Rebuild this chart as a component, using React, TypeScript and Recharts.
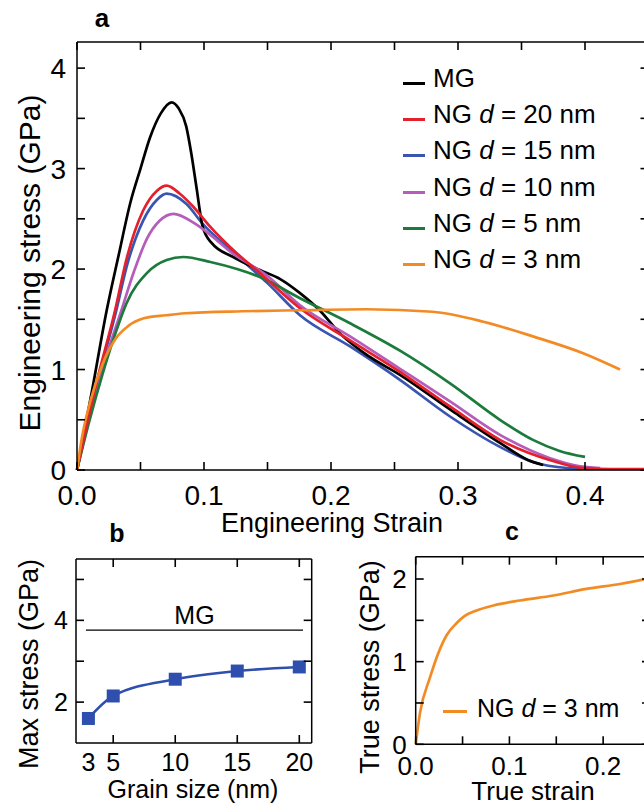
import React from "react";
import { LineChart, Line, XAxis, YAxis, ReferenceLine, Legend } from "recharts";

const FONT = '"Liberation Sans", Arial, Helvetica, sans-serif';

// ---- panel a: engineering stress-strain ----
const mgStrain = [0, 0.012, 0.0234, 0.033, 0.042, 0.05, 0.0575, 0.066, 0.0745, 0.08, 0.086, 0.09, 0.094, 0.099, 0.106, 0.123, 0.144, 0.16, 0.1756, 0.191, 0.207, 0.23, 0.254, 0.294, 0.333, 0.355, 0.367];
const mgStress = [0, 0.8, 1.59, 2.15, 2.66, 3.0, 3.31, 3.55, 3.66, 3.6, 3.42, 3.15, 2.82, 2.42, 2.26, 2.12, 1.99, 1.9, 1.76, 1.59, 1.36, 1.13, 0.95, 0.6, 0.27, 0.1, 0.05];

const ng20Strain = [0, 0.015, 0.03, 0.039, 0.052, 0.063, 0.0706, 0.081, 0.0916, 0.105, 0.123, 0.144, 0.1756, 0.215, 0.254, 0.294, 0.333, 0.372, 0.398, 0.42, 0.45];
const ng20Stress = [0, 0.85, 1.59, 2.1, 2.58, 2.78, 2.83, 2.75, 2.62, 2.42, 2.19, 1.96, 1.61, 1.29, 0.98, 0.63, 0.3, 0.1, 0.02, 0.01, 0.01];

const ng15Strain = [0, 0.015, 0.031, 0.039, 0.052, 0.063, 0.0706, 0.086, 0.099, 0.12, 0.15, 0.1756, 0.215, 0.254, 0.294, 0.333, 0.359, 0.386, 0.406];
const ng15Stress = [0, 0.83, 1.59, 2.02, 2.48, 2.69, 2.75, 2.65, 2.45, 2.2, 1.86, 1.54, 1.23, 0.9, 0.53, 0.23, 0.08, 0.02, 0.01];

const ng10Strain = [0, 0.015, 0.035, 0.045, 0.055, 0.065, 0.076, 0.092, 0.107, 0.12, 0.15, 0.1756, 0.215, 0.254, 0.294, 0.333, 0.372, 0.395, 0.412];
const ng10Stress = [0, 0.8, 1.59, 1.98, 2.3, 2.48, 2.55, 2.46, 2.32, 2.18, 1.93, 1.64, 1.33, 1.01, 0.68, 0.35, 0.12, 0.04, 0.02];

const ng5Strain = [0, 0.01, 0.02, 0.03, 0.039, 0.055, 0.0706, 0.0837, 0.105, 0.126, 0.144, 0.1756, 0.215, 0.254, 0.294, 0.333, 0.359, 0.38, 0.4];
const ng5Stress = [0, 0.5, 0.95, 1.35, 1.66, 1.96, 2.09, 2.12, 2.07, 2.0, 1.92, 1.71, 1.46, 1.19, 0.86, 0.5, 0.3, 0.19, 0.13];

const ng3Strain = [0, 0.004, 0.0104, 0.02, 0.03, 0.04, 0.0526, 0.07, 0.085, 0.13, 0.1756, 0.228, 0.28, 0.32, 0.359, 0.399, 0.4276];
const ng3Stress = [0, 0.33, 0.68, 1.05, 1.3, 1.43, 1.51, 1.54, 1.56, 1.58, 1.59, 1.6, 1.575, 1.476, 1.33, 1.16, 1.0];

const strainDomainA = [0, 0.45];
const stressDomainA = [0, 4.26];
const strainTicksA = [0, 0.05, 0.1, 0.15, 0.2, 0.25, 0.3, 0.35, 0.4, 0.45];
const strainLabelsA = [0, 0.1, 0.2, 0.3, 0.4];
const stressTicksA = [0, 0.5, 1, 1.5, 2, 2.5, 3, 3.5, 4];
const stressLabelsA = [0, 1, 2, 3, 4];

// ---- panel b: max stress vs grain size ----
const grainSize = [3, 5, 10, 15, 20];
const maxStress = [1.6, 2.15, 2.56, 2.76, 2.86];
const mgMaxStress = 3.76;
const mgLineSpan = [2.8, 20.3];
const grainDomain = [2, 21];
const maxStressDomain = [1, 5.5];
const grainTicks = [3, 5, 10, 15, 20];
const grainTickMarks = [5, 10, 15, 20];
const maxStressTicks = [2, 3, 4, 5];
const maxStressLabels = [2, 4];

// ---- panel c: true stress-strain, d = 3 nm ----
const trueStrain = [0, 0.0046, 0.015, 0.024, 0.033, 0.044, 0.052, 0.065, 0.083, 0.111, 0.147, 0.182, 0.218, 0.25];
const trueStress = [0, 0.38, 0.8, 1.1, 1.32, 1.47, 1.55, 1.62, 1.68, 1.74, 1.8, 1.88, 1.94, 2.01];
const trueStrainDomain = [0, 0.25];
const trueStressDomain = [0, 2.27];
const trueStrainTicks = [0, 0.05, 0.1, 0.15, 0.2, 0.25];
const trueStrainLabels = [0, 0.1, 0.2];
const trueStressTicks = [0, 0.5, 1, 1.5, 2];
const trueStressLabels = [0, 1, 2];

const toPoints = (xs: number[], ys: number[]) => xs.map((x, i) => ({ x, y: ys[i] }));

const seriesA = [
  { name: "MG", color: "#000000", data: toPoints(mgStrain, mgStress) },
  { name: "NG d = 20 nm", color: "#e3202b", data: toPoints(ng20Strain, ng20Stress) },
  { name: "NG d = 15 nm", color: "#3a55b0", data: toPoints(ng15Strain, ng15Stress) },
  { name: "NG d = 10 nm", color: "#b65cba", data: toPoints(ng10Strain, ng10Stress) },
  { name: "NG d = 5 nm", color: "#1c7b3c", data: toPoints(ng5Strain, ng5Stress) },
  { name: "NG d = 3 nm", color: "#f38b25", data: toPoints(ng3Strain, ng3Stress) },
];
// drawing order (last on top)
const drawOrder = [2, 0, 3, 4, 1, 5];

const ORANGE = "#f38b25";
const BLUE_B = "#2f4fae";
const TICK = 8;

// plot boxes on the page (left, top, width, height); chart margins are derived from them
const boxA = { left: 77, top: 42, w: 571.5, h: 428 };
const boxB = { left: 76, top: 559, w: 235.7, h: 184 };
const boxC = { left: 415.7, top: 556.7, w: 234.3, h: 187.6 };

const isIn = (list: number[], v: number) => list.some((l) => Math.abs(l - v) < 1e-9);

// labels only; with tickSize=-TICK and tickMargin=TICK, (x, y) sits on the axis line
function makeLabel(side: string, labels: number[], fmt: (v: number) => string, fontSize: number, offset: number) {
  return (props: any) => {
    const { x, y, payload } = props;
    const v = payload.value;
    if (!isIn(labels, v)) return <g />;
    if (side === "bottom") {
      return <text x={x} y={y + offset} textAnchor="middle" fontSize={fontSize} fill="#000" fontFamily={FONT}>{fmt(v)}</text>;
    }
    return <text x={x - offset} y={y + fontSize * 0.36} textAnchor="end" fontSize={fontSize} fill="#000" fontFamily={FONT}>{fmt(v)}</text>;
  };
}

// inward tick marks on the four sides of a plot box
function TickMarks({ box, xd, yd, xTicks, yTicks }: { box: any; xd: number[]; yd: number[]; xTicks: number[]; yTicks: number[] }) {
  const sx = (v: number) => box.left + ((v - xd[0]) / (xd[1] - xd[0])) * box.w;
  const sy = (v: number) => box.top + box.h - ((v - yd[0]) / (yd[1] - yd[0])) * box.h;
  const bottom = box.top + box.h;
  const right = box.left + box.w;
  return (
    <g stroke="#000" strokeWidth={1.6}>
      {xTicks.map((t) => (
        <g key={"x" + t}>
          <line x1={sx(t)} y1={bottom} x2={sx(t)} y2={bottom - TICK} />
          <line x1={sx(t)} y1={box.top} x2={sx(t)} y2={box.top + TICK} />
        </g>
      ))}
      {yTicks.map((t) => (
        <g key={"y" + t}>
          <line x1={box.left} y1={sy(t)} x2={box.left + TICK} y2={sy(t)} />
          <line x1={right} y1={sy(t)} x2={right - TICK} y2={sy(t)} />
        </g>
      ))}
    </g>
  );
}

const fmt1 = (v: number) => v.toFixed(1);
const fmt0 = (v: number) => String(v);
const axisLine = { stroke: "#000", strokeWidth: 1.5 };

function SeriesName({ name }: { name: string }) {
  if (!name.startsWith("NG d")) return <span>{name}</span>;
  return (
    <span>
      NG <i>d</i>
      {name.slice(4)}
    </span>
  );
}

function LegendA() {
  return (
    <div style={{ fontFamily: FONT, fontSize: 26, color: "#000" }}>
      {seriesA.map((s) => (
        <div key={s.name} style={{ height: 36.3, display: "flex", alignItems: "center", whiteSpace: "nowrap" }}>
          <span style={{ display: "inline-block", width: 22, height: 3, background: s.color, marginRight: 8, marginTop: 10 }} />
          <SeriesName name={s.name} />
        </div>
      ))}
    </div>
  );
}

function LegendC() {
  return (
    <div style={{ fontFamily: FONT, fontSize: 25, color: "#000", display: "flex", alignItems: "center", whiteSpace: "nowrap" }}>
      <span style={{ display: "inline-block", width: 24, height: 3, background: ORANGE, marginRight: 10, marginTop: 6 }} />
      <SeriesName name="NG d = 3 nm" />
    </div>
  );
}

// top and right edges of the box
function boxEdges(xd: number[], yd: number[], ids: any) {
  return [
    <ReferenceLine key="top" segment={[{ x: xd[0], y: yd[1] }, { x: xd[1], y: yd[1] }]} stroke="#000" strokeWidth={1.5} ifOverflow="visible" {...ids} />,
    <ReferenceLine key="right" segment={[{ x: xd[1], y: yd[0] }, { x: xd[1], y: yd[1] }]} stroke="#000" strokeWidth={1.5} ifOverflow="visible" {...ids} />,
  ];
}

function PanelA() {
  return (
    <div style={{ position: "absolute", left: 0, top: 0 }}>
      <LineChart width={660} height={515} margin={{ top: boxA.top, right: 660 - boxA.left - boxA.w, bottom: 0, left: 0 }}>
        <XAxis xAxisId="b" type="number" dataKey="x" domain={strainDomainA} ticks={strainTicksA} interval={0} height={515 - boxA.top - boxA.h}
          tickSize={-TICK} tickMargin={TICK} axisLine={axisLine} tickLine={false}
          tick={makeLabel("bottom", strainLabelsA, fmt1, 28, 35)} />
        <YAxis yAxisId="l" type="number" domain={stressDomainA} ticks={stressTicksA} interval={0} width={boxA.left}
          tickSize={-TICK} tickMargin={TICK} axisLine={axisLine} tickLine={false}
          tick={makeLabel("left", stressLabelsA, fmt0, 28, 11)} />
        {boxEdges(strainDomainA, stressDomainA, { xAxisId: "b", yAxisId: "l" })}
        {drawOrder.map((i) => {
          const s = seriesA[i];
          return (
            <Line key={s.name} xAxisId="b" yAxisId="l" data={s.data} dataKey="y" name={s.name} type="monotone"
              stroke={s.color} strokeWidth={2.7} dot={false} isAnimationActive={false} />
          );
        })}
        <Legend layout="vertical" align="center" verticalAlign="middle" content={() => <LegendA />}
          wrapperStyle={{ left: 403, top: 60, width: 240, height: "auto" }} />
      </LineChart>
    </div>
  );
}

function PanelB() {
  const data = toPoints(grainSize, maxStress);
  const top = 520;
  return (
    <div style={{ position: "absolute", left: 0, top }}>
      <LineChart width={330} height={265} margin={{ top: boxB.top - top, right: 330 - boxB.left - boxB.w, bottom: 0, left: 0 }} data={data}>
        <XAxis type="number" dataKey="x" domain={grainDomain} ticks={grainTicks} interval={0} height={265 - (boxB.top - top) - boxB.h}
          tickSize={-TICK} tickMargin={TICK} axisLine={axisLine} tickLine={false}
          tick={makeLabel("bottom", grainTicks, fmt0, 25, 28)} />
        <YAxis type="number" domain={maxStressDomain} ticks={maxStressTicks} interval={0} width={boxB.left}
          tickSize={-TICK} tickMargin={TICK} axisLine={axisLine} tickLine={false}
          tick={makeLabel("left", maxStressLabels, fmt0, 25, 8)} />
        {boxEdges(grainDomain, maxStressDomain, {})}
        <ReferenceLine segment={[{ x: mgLineSpan[0], y: mgMaxStress }, { x: mgLineSpan[1], y: mgMaxStress }]}
          stroke="#000" strokeWidth={1.4}
          label={{ value: "MG", position: "top", fontSize: 25, fill: "#000", fontFamily: FONT, offset: 6 }} />
        <Line dataKey="y" type="monotone" stroke={BLUE_B} strokeWidth={2.6} isAnimationActive={false}
          dot={(p: any) => <rect key={p.index} x={p.cx - 6.5} y={p.cy - 6.5} width={13} height={13} fill={BLUE_B} />} />
      </LineChart>
    </div>
  );
}

function PanelC() {
  const data = toPoints(trueStrain, trueStress);
  const left = 340;
  const top = 520;
  return (
    <div style={{ position: "absolute", left, top }}>
      <LineChart width={320} height={265} margin={{ top: boxC.top - top, right: 320 - (boxC.left - left) - boxC.w, bottom: 0, left: 0 }} data={data}>
        <XAxis type="number" dataKey="x" domain={trueStrainDomain} ticks={trueStrainTicks} interval={0} height={265 - (boxC.top - top) - boxC.h}
          tickSize={-TICK} tickMargin={TICK} axisLine={axisLine} tickLine={false}
          tick={makeLabel("bottom", trueStrainLabels, fmt1, 26, 31)} />
        <YAxis type="number" domain={trueStressDomain} ticks={trueStressTicks} interval={0} width={boxC.left - left}
          tickSize={-TICK} tickMargin={TICK} axisLine={axisLine} tickLine={false}
          tick={makeLabel("left", trueStressLabels, fmt0, 26, 9)} />
        {boxEdges(trueStrainDomain, trueStressDomain, {})}
        <Line dataKey="y" name="NG d = 3 nm" type="monotone" stroke={ORANGE} strokeWidth={2.7}
          dot={false} isAnimationActive={false} />
        <Legend layout="vertical" align="center" verticalAlign="middle" content={() => <LegendC />}
          wrapperStyle={{ left: 103, top: 174, width: 200, height: "auto" }} />
      </LineChart>
    </div>
  );
}

export default function App() {
  return (
    <div style={{ position: "absolute", left: 0, top: 0, width: 644, height: 805, overflow: "hidden", background: "#fff", fontFamily: FONT }}>
      <PanelA />
      <PanelB />
      <PanelC />
      <svg width={644} height={805} style={{ position: "absolute", left: 0, top: 0, pointerEvents: "none" }} fontFamily={FONT}>
        <TickMarks box={boxA} xd={strainDomainA} yd={stressDomainA} xTicks={strainTicksA} yTicks={stressTicksA} />
        <TickMarks box={boxB} xd={grainDomain} yd={maxStressDomain} xTicks={grainTickMarks} yTicks={maxStressTicks} />
        <TickMarks box={boxC} xd={trueStrainDomain} yd={trueStressDomain} xTicks={trueStrainTicks} yTicks={trueStressTicks} />
        <text x={102} y={27} fontSize={26} fontWeight="bold" textAnchor="middle" fill="#000">a</text>
        <text x={117} y={542} fontSize={25} fontWeight="bold" textAnchor="middle" fill="#000">b</text>
        <text x={512} y={540} fontSize={25} fontWeight="bold" textAnchor="middle" fill="#000">c</text>
        <text transform="translate(40,263) rotate(-90)" fontSize={30} textAnchor="middle" fill="#000">Engineering stress (GPa)</text>
        <text x={332} y={532} fontSize={27} textAnchor="middle" fill="#000">Engineering Strain</text>
        <text transform="translate(38,664) rotate(-90)" fontSize={27} textAnchor="middle" fill="#000">Max stress (GPa)</text>
        <text x={193} y={798} fontSize={25} textAnchor="middle" fill="#000">Grain size (nm)</text>
        <text transform="translate(379,667) rotate(-90)" fontSize={27} textAnchor="middle" fill="#000">True stress (GPa)</text>
        <text x={533} y={800} fontSize={26} textAnchor="middle" fill="#000">True strain</text>
      </svg>
    </div>
  );
}
